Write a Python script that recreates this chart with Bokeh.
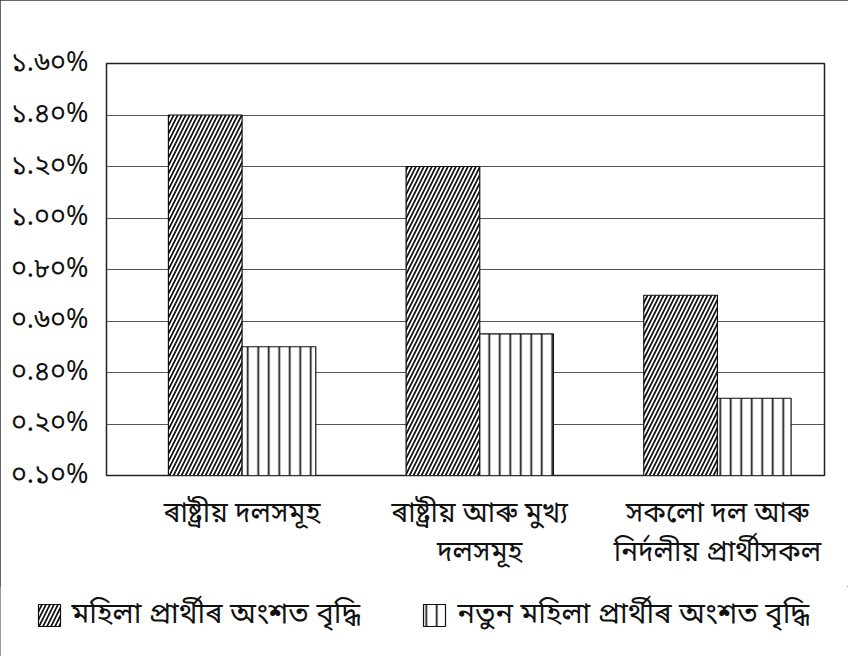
from bokeh.plotting import figure
from bokeh.layouts import column
from bokeh.models import Range1d, LinearAxis, FixedTicker, ColumnDataSource
from bokeh.core.properties import value
from bokeh.embed import file_html
from bokeh.resources import INLINE

categories = ["ৰাষ্ট্ৰীয় দলসমূহ", "ৰাষ্ট্ৰীয় আৰু মুখ্য\nদলসমূহ", "সকলো দল আৰু\nনিৰ্দলীয় প্ৰাৰ্থীসকল"]
series_names = ["মহিলা প্ৰাৰ্থীৰ অংশত বৃদ্ধি", "নতুন মহিলা প্ৰাৰ্থীৰ অংশত বৃদ্ধি"]
women_share = [1.40, 1.20, 0.70]
new_women_share = [0.50, 0.55, 0.30]
y_ticks = [0.0, 0.2, 0.4, 0.6, 0.8, 1.0, 1.2, 1.4, 1.6]
y_tick_labels = ["০.১০%", "০.২০%", "০.৪০%", "০.৬০%", "০.৮০%", "১.০০%", "১.২০%", "১.৪০%", "১.৬০%"]

FONT = "Noto Sans Bengali, Noto Sans, sans-serif"
INK = "#111111"
HATCH = [dict(hatch_pattern="/", hatch_scale=8, hatch_weight=1.7),
         dict(hatch_pattern="|", hatch_scale=10.5, hatch_weight=1.7)]

p = figure(width=848, height=586, output_backend="svg", toolbar_location=None,
           x_range=Range1d(-0.5705, 2.4505), y_range=Range1d(0, 1.6),
           min_border_left=106, min_border_right=24, min_border_top=63, min_border_bottom=111,
           x_axis_location=None)
p.frame_align = False
p.outline_line_color = "#222222"
p.outline_line_width = 1.5
p.xgrid.grid_line_color = None
p.ygrid.grid_line_color = "#555555"
p.ygrid.grid_line_width = 1
p.ygrid.ticker = FixedTicker(ticks=y_ticks)

yax = p.yaxis[0]
yax.ticker = FixedTicker(ticks=y_ticks)
yax.major_label_overrides = {t: l for t, l in zip(y_ticks, y_tick_labels)}
yax.axis_line_color = None
yax.major_tick_line_color = None
yax.minor_tick_line_color = None
yax.major_label_standoff = 12
yax.major_label_text_font = FONT
yax.major_label_text_font_size = "27px"
yax.major_label_text_color = INK

xs = list(range(len(categories)))
bw = 0.31
src = ColumnDataSource(dict(
    x1=[x - bw / 2 for x in xs], x2=[x + bw / 2 for x in xs],
    a=women_share, b=new_women_share))

p.vbar(x="x1", top="a", width=bw, source=src, fill_color="white", line_color=INK,
       line_width=1.2, hatch_color=INK, **HATCH[0])
p.vbar(x="x2", top="b", width=bw, source=src, fill_color="white", line_color=INK,
       line_width=1.2, hatch_color=INK, **HATCH[1])

lines = [c.split("\n") for c in categories]
first = {x: l[0] for x, l in zip(xs, lines)}
second = {x: (l[1] if len(l) > 1 else "") for x, l in zip(xs, lines)}
for i, over in enumerate([first, second]):
    ax = LinearAxis(ticker=FixedTicker(ticks=xs), major_label_overrides=over)
    ax.axis_line_color = None
    ax.major_tick_line_color = None
    ax.minor_tick_line_color = None
    ax.major_label_text_font = FONT
    ax.major_label_text_font_size = "28px"
    ax.major_label_text_color = INK
    ax.major_label_standoff = 14 if i == 0 else -7
    p.add_layout(ax, "below")

# legend strip (pixel coordinates)
lf = figure(width=848, height=70, output_backend="svg", toolbar_location=None,
            x_range=Range1d(0, 848), y_range=Range1d(0, 70),
            min_border_left=0, min_border_right=0, min_border_top=0, min_border_bottom=0,
            x_axis_location=None, y_axis_location=None)
lf.frame_align = False
lf.outline_line_color = None
lf.xgrid.grid_line_color = None
lf.ygrid.grid_line_color = None
swatch_x = [49, 434]
label_x = [71, 457]
leg_y = 41
for h, sx, lx, name in zip(HATCH, swatch_x, label_x, series_names):
    lf.rect(x=[sx], y=[leg_y], width=22, height=22, width_units="screen", height_units="screen",
            fill_color="white", line_color=INK, line_width=1.2, hatch_color=INK, **h)
    lf.text(x=[lx], y=[leg_y], text=[name], text_font=value(FONT), text_font_size="29px",
            text_color=INK, text_baseline="middle", text_align="left")

layout = column(p, lf, spacing=0)
layout.styles = {"outline": "1px solid #333", "outline-offset": "-1px"}

open("out.html", "w").write(file_html(layout, INLINE))
